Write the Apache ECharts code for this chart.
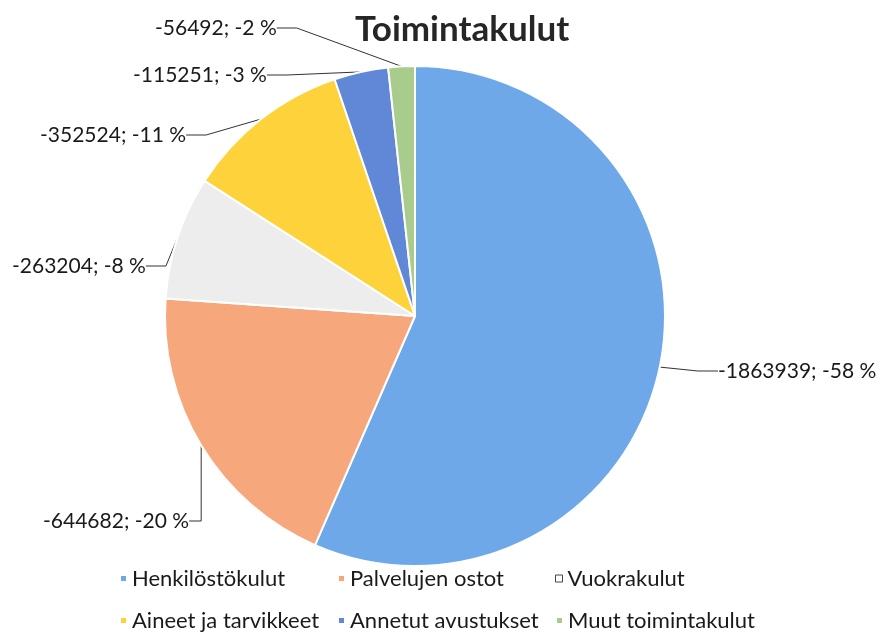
<!DOCTYPE html>
<html>
<head>
<meta charset="utf-8">
<script src="https://cdn.jsdelivr.net/npm/echarts@6/dist/echarts.min.js"></script>
<style>
  html, body { margin: 0; padding: 0; background: #fff; }
  #main { width: 885px; height: 632px; }
</style>
</head>
<body>
<div id="main"></div>
<script>
const categories = ['Henkilöstökulut', 'Palvelujen ostot', 'Vuokrakulut', 'Aineet ja tarvikkeet', 'Annetut avustukset', 'Muut toimintakulut'];
const values = [-1863939, -644682, -263204, -352524, -115251, -56492];
const percentLabels = [-58, -20, -8, -11, -3, -2];
const colors = ['#6ea8e8', '#f7a77c', '#ededed', '#fdd23a', '#6088d6', '#a9cb8c'];
// label anchors: left x, middle y
const labelPos = [[718, 371], [43, 521], [12, 266], [40, 135], [133, 75], [155, 28]];

const chart = echarts.init(document.getElementById('main'));

const pieData = categories.map((name, i) => ({
  name: name,
  value: -values[i],
  itemStyle: { color: colors[i] }
}));

const legendData = categories.map((name, i) => {
  if (i === 2) {
    return { name: name, itemStyle: { color: '#fff', borderColor: '#444', borderWidth: 1 } };
  }
  return { name: name };
});

chart.setOption({
  backgroundColor: '#fff',
  title: {
    text: 'Toimintakulut',
    left: 350,
    top: 7,
    textStyle: { fontFamily: 'Lato', fontWeight: 'bold', fontSize: 35, color: '#262626' }
  },
  legend: {
    data: legendData,
    left: 114,
    top: 555,
    width: 660,
    itemWidth: 7,
    itemHeight: 7,
    itemGap: 5,
    icon: 'rect',
    textStyle: { fontFamily: 'Lato', fontSize: 22, color: '#1a1a1a', width: 200, lineHeight: 37 }
  },
  series: [{
    type: 'pie',
    center: [415, 316],
    radius: 250,
    startAngle: 90,
    clockwise: true,
    data: pieData,
    itemStyle: { borderColor: '#fff', borderWidth: 2 },
    label: {
      show: true,
      position: 'outside',
      overflow: 'none',
      fontFamily: 'Lato',
      fontSize: 21,
      color: '#1a1a1a',
      formatter: function (p) {
        return values[p.dataIndex] + '; ' + percentLabels[p.dataIndex] + ' %';
      }
    },
    labelLine: { show: true, length: 15, length2: 20, lineStyle: { color: '#333', width: 1 } },
    labelLayout: function (params) {
      const pos = labelPos[params.dataIndex];
      return { x: pos[0], y: pos[1], align: 'left', verticalAlign: 'middle' };
    },
    emphasis: { disabled: true }
  }]
});
</script>
</body>
</html>
